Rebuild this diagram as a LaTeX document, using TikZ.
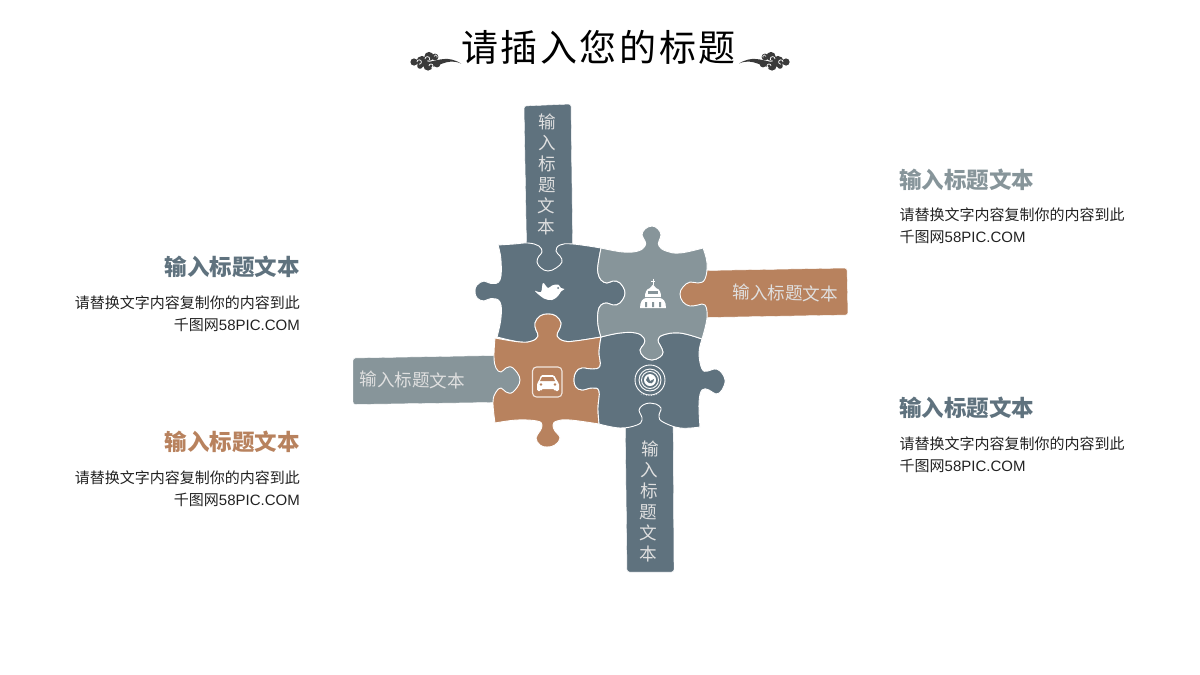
\documentclass[tikz,border=0pt]{standalone}
\usepackage{fontspec}
\setmainfont{Noto Sans CJK SC}
\newfontfamily\titlefont[LetterSpace=7]{Noto Sans CJK SC}
\newfontfamily\latinfont{Liberation Sans}
\definecolor{pdark}{HTML}{5F727E}
\definecolor{pgray}{HTML}{87959A}
\definecolor{pbrown}{HTML}{B8825E}
\definecolor{ink}{HTML}{222222}
\definecolor{orn}{HTML}{3A3A3A}
\tikzset{
  x=1pt,y=-1pt,
  piece/.style={draw=white,line width=.9pt,line join=round},
  strip/.style={rounded corners=2.5pt,draw=white,line width=.4pt},
  csmooth/.style={smooth,tension=.7},
  head/.style={font=\fontsize{22.5}{26}\selectfont\bfseries,inner sep=0pt},
  body/.style={font=\fontsize{15}{21.5}\selectfont,text=ink,inner sep=0pt},
  striptext/.style={font=\fontsize{17.5}{21}\selectfont,text=white!88!black,inner sep=0pt},
}
\begin{document}
\begin{tikzpicture}
\useasboundingbox (0,0) rectangle (1200,675);
% title
\node[font=\fontsize{37}{42}\selectfont\titlefont,text=black,inner sep=0pt] (title) at (598.5,47) {请插入您的标题};
% ornaments
\foreach \s in {1,-1}{
\begin{scope}[shift={(600,0)},xscale=\s]
 \fill[orn] (-178,61.5) circle (5.6);
 \fill[orn] (-186,62) circle (3.6);
 \fill[orn] (-171,56.5) circle (4.6);
 \fill[orn] (-165,57) circle (3.4);
 \fill[orn] (-172,66) circle (4.6);
 \fill[orn] (-180,66) circle (2.8);
 \fill[orn] (-163,64) circle (3.4);
 \fill[orn] (-174,67) .. controls (-162,69) and (-154,57) .. (-139,63.5)
   .. controls (-152,55.5) and (-160,60) .. (-172,62) -- cycle;
 \draw[white,line width=.7pt] (-183,62) arc (180:450:2.2);
 \draw[white,line width=.7pt] (-175,59) arc (180:420:2.4);
 \draw[white,line width=.7pt] (-171,66) arc (180:430:2);
 \draw[white,line width=.6pt] (-166,56.5) arc (180:400:1.6);
\end{scope}}
% strips (run under the pieces so that the notches show them)
\path[fill=pdark,strip] (524,106) -- (571,104) -- (573,272) -- (527,272) -- cycle;
\path[fill=pdark,strip] (625,400) -- (673,400) -- (674,572) -- (627,572) -- cycle;
\path[fill=pbrown,strip] (678,271) -- (847,268) -- (848,315) -- (678,318) -- cycle;
\path[fill=pgray,strip] (353,358) -- (524,355) -- (524,402) -- (353,404.5) -- cycle;
% piece A, top left
\path[piece,fill=pdark]
  plot[csmooth] coordinates {(498,245) (514,244) (528,243) (539,246) (542,252) (539,256) (537,262) (541,268) (548,271) (556,268) (562,262) (560,256) (556,251) (560,245) (573,244) (601,248)}
  -- plot[csmooth] coordinates {(601,248) (598,265) (598,273) (601,280) (607,283) (613,281) (620,283) (625,293) (620,303) (613,305) (607,303) (601,305) (598,312) (598,325) (601,337)}
  -- plot[csmooth] coordinates {(601,337) (575,341) (564,341) (557,336) (559,330) (561,323) (556,316) (548,314) (540,316) (535,323) (536,330) (538,336) (532,341) (520,342) (497,337)}
  -- plot[csmooth] coordinates {(497,337) (501,318) (500,302) (491,298.5) (484,301) (477,298) (475,291) (477,285) (484,281) (491,283.5) (500,280) (501,260) (498,245)}
  -- cycle;
% piece B, bottom left
\path[piece,fill=pbrown]
  plot[csmooth] coordinates {(495,338) (520,342) (532,341) (538,336) (536,330) (535,323) (540,316) (548,314) (556,316) (561,323) (559,330) (557,336) (564,341) (575,341) (601,337)}
  -- plot[csmooth] coordinates {(601,337) (599,352) (600,366) (592,369) (582,368) (576,372) (574,380) (576,387) (582,390) (592,388) (599,391) (598,408) (599,424)}
  -- plot[csmooth] coordinates {(599,424) (570,420) (557,421) (553,425) (555,431) (560,438) (555,445) (547,447) (540,445) (536,438) (540,431) (542,425) (537,421) (517,420) (495,423)}
  -- plot[csmooth] coordinates {(495,423) (493,402) (496,392) (501,388) (506,392) (513,392) (520,380) (513,368) (506,368) (501,372) (496,368) (494,357) (495,338)}
  -- cycle;
% piece D, bottom right
\path[piece,fill=pdark]
  plot[csmooth] coordinates {(601,337) (620,333) (636,333) (644,338) (644,344) (640,350) (644,357) (652,360) (660,357) (663,352) (660,345) (658,340) (663,335) (680,333) (702,339)}
  -- plot[csmooth] coordinates {(702,339) (699,353) (702,369) (708,371) (714,369) (720,371) (725,380) (722,390) (716,394) (709,390) (702,390) (699,403) (700,427)}
  -- plot[csmooth] coordinates {(700,427) (680,428) (663,422) (659,417) (660,412) (661,408) (656,404) (650,403) (643,405) (639,410) (641,415) (642,420) (637,425) (620,428) (599,424)}
  -- plot[csmooth] coordinates {(599,424) (598,408) (599,391) (592,388) (582,390) (576,387) (574,380) (576,372) (582,368) (592,369) (600,366) (599,352) (601,337)}
  -- cycle;
% piece C, top right
\path[piece,fill=pgray]
  plot[csmooth] coordinates {(601,248) (623,252) (638,251) (645,246) (645,241) (642,235) (645,229) (652,226) (658,229) (661,235) (659,241) (659,246) (666,251) (680,253) (703,248)}
  -- plot[csmooth] coordinates {(703,248) (707,263) (705,279) (698,283) (690,282) (683,287) (680,294) (683,302) (690,306) (698,305) (705,305) (707,318) (702,339)}
  -- plot[csmooth] coordinates {(702,339) (680,333) (663,335) (658,340) (660,345) (663,352) (660,357) (652,360) (644,357) (640,350) (644,344) (644,338) (636,333) (620,333) (601,337)}
  -- plot[csmooth] coordinates {(601,337) (598,325) (598,312) (601,305) (607,303) (613,305) (620,303) (625,293) (620,283) (613,281) (607,283) (601,280) (598,273) (598,265) (601,248)}
  -- cycle;
% bird icon
\fill[white] plot[smooth cycle,tension=.6] coordinates {(535,291) (541,292) (543,283) (548,288) (552,285.5) (558,284.5) (561,288) (564.5,289) (561,291.5) (558,296) (552,300) (544,298.5)};
\fill[pdark] (558,288) circle (1);
% church icon
\draw[white,line width=.9pt] (653,278.5) -- (653,285) (651,281) -- (655,281);
\fill[white] (653,284.5) -- (656,288) .. controls (660,289) and (661,293) .. (661,297) -- (645,297) .. controls (645,293) and (646,289) .. (650,288) -- cycle;
\fill[white] (640,308) .. controls (640,301) and (643,298.5) .. (646,298) -- (660,298) .. controls (663,298.5) and (666,301) .. (666,308) -- cycle;
\fill[pgray] (648,291) rectangle (658,293.5);
\fill[pgray] (645,302) rectangle (647,307) (652,302) rectangle (654,307) (659,302) rectangle (661,307);
% car icon
\draw[white!80!pbrown,line width=1.1pt,rounded corners=4pt] (532.5,367) rectangle (562,397);
\fill[white,rounded corners=1.5pt] (541,375) -- (554,375) -- (557,381) -- (559,383) -- (559,391) -- (555,391) -- (555,389) -- (541,389) -- (541,391) -- (537,391) -- (537,383) -- (539,381) -- cycle;
\fill[pbrown] (542,377) -- (553,377) -- (555,381) -- (540,381) -- cycle;
\fill[pbrown] (541,384.5) circle (1.3) (555,384.5) circle (1.3);
% lens icon
\draw[white,line width=.9pt] (650,380) circle (15);
\draw[white,line width=.9pt] (650,380) circle (11);
\draw[white,line width=.9pt] (650,380) circle (8.5);
\fill[white] (650,380) circle (6);
\fill[pdark] (646,380) .. controls (650,386) and (654,383) .. (654,379) -- (650,381) -- (648,376) -- cycle;
\draw[white,line width=.6pt,dotted] (641,394) .. controls (646,396) and (654,396) .. (659,394);
% strip texts
\node[striptext,align=center,rotate=-.5] (t1) at (547,174) {输\\入\\标\\题\\文\\本};
\node[striptext,align=center,rotate=-1] (t2) at (649,501) {输\\入\\标\\题\\文\\本};
\node[striptext,rotate=-1] (t3) at (785.5,293) {输入标题文本};
\node[striptext,rotate=-1] (t4) at (412.5,380) {输入标题文本};
% side texts
\node[head,text=pgray,anchor=west] (h1) at (899,180) {输入标题文本};
\node[body,anchor=north west,align=left] (b1) at (899.5,208) {请替换文字内容复制你的内容到此\\千图网{\latinfont 58PIC.COM}};
\node[head,text=pdark,anchor=west] (h2) at (899,408) {输入标题文本};
\node[body,anchor=north west,align=left] (b2) at (899.5,437) {请替换文字内容复制你的内容到此\\千图网{\latinfont 58PIC.COM}};
\node[head,text=pdark,anchor=east] (h3) at (300,267) {输入标题文本};
\node[body,anchor=north east,align=right] (b3) at (300,296) {请替换文字内容复制你的内容到此\\千图网{\latinfont 58PIC.COM}};
\node[head,text=pbrown,anchor=east] (h4) at (300,442) {输入标题文本};
\node[body,anchor=north east,align=right] (b4) at (300,471) {请替换文字内容复制你的内容到此\\千图网{\latinfont 58PIC.COM}};
\end{tikzpicture}
\end{document}
